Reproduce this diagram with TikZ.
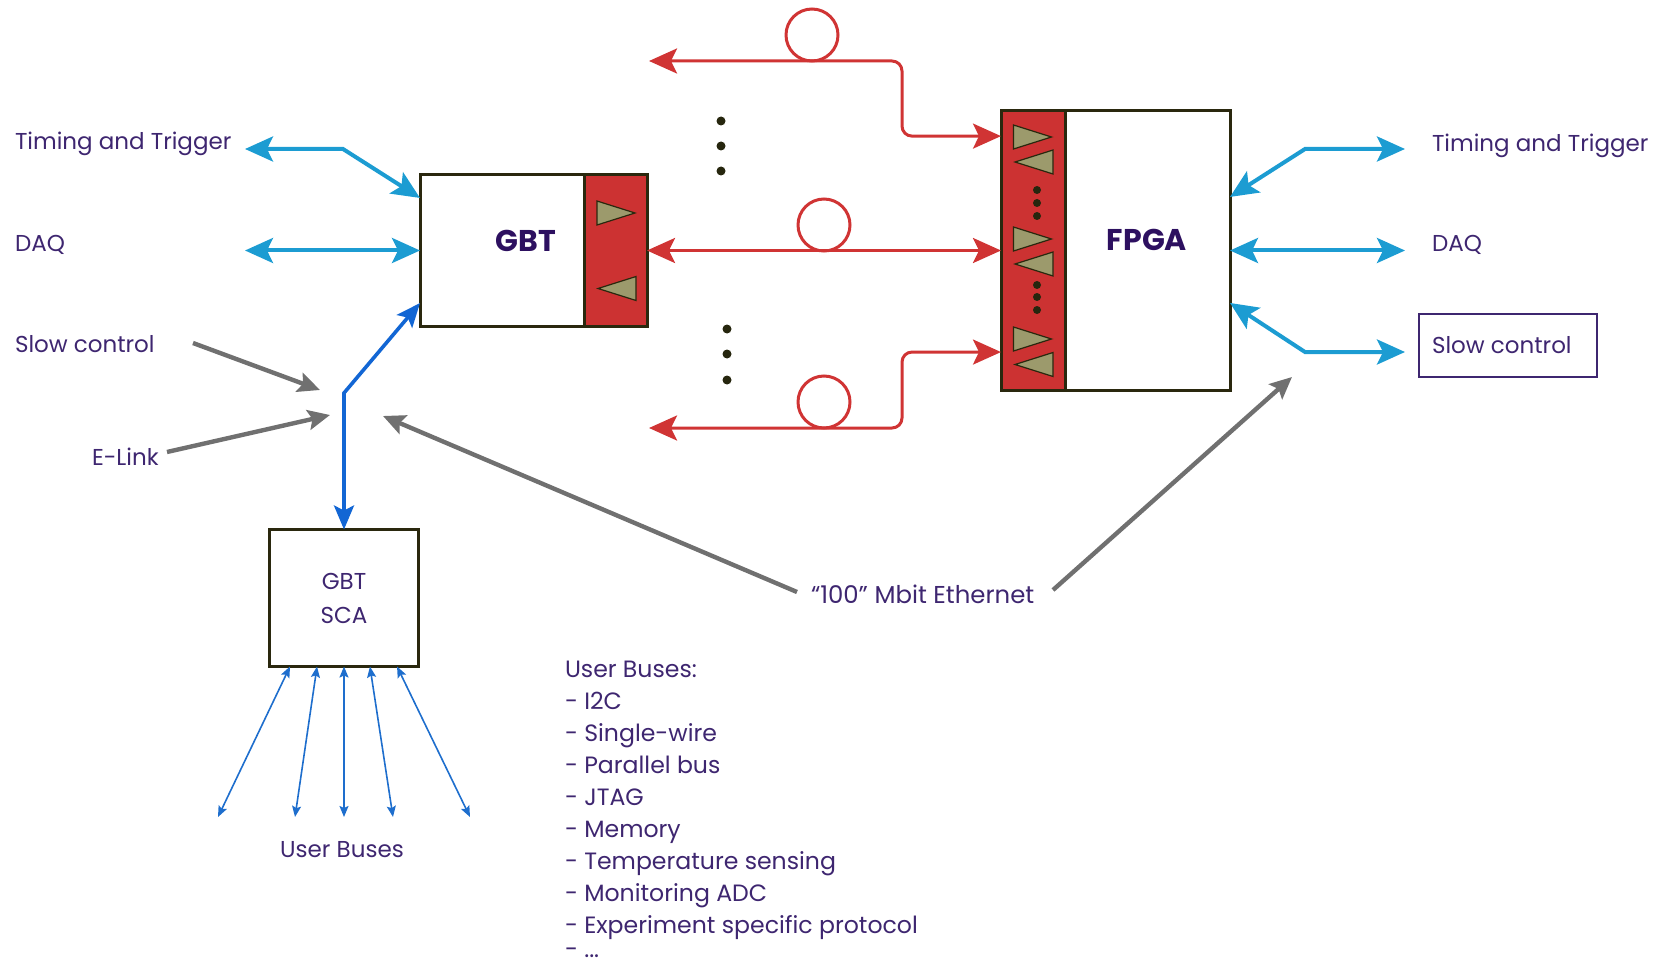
\documentclass[tikz,border=0pt]{standalone}
\usepackage{fontspec}
\setmainfont{Poppins}
\usetikzlibrary{arrows.meta,calc}
\definecolor{txtc}{RGB}{62,38,112}
\definecolor{boldc}{RGB}{45,16,96}
\definecolor{boxc}{RGB}{42,40,14}
\definecolor{redc}{RGB}{208,52,52}
\definecolor{fillred}{RGB}{204,50,50}
\definecolor{tric}{RGB}{156,154,108}
\definecolor{cyanc}{RGB}{28,156,210}
\definecolor{bluec}{RGB}{18,102,212}
\definecolor{busc}{RGB}{30,110,205}
\definecolor{grayc}{RGB}{112,112,112}
\definecolor{dotc}{RGB}{38,38,14}
\tikzset{
  cyTip/.tip={Stealth[length=14pt,width=12.5pt,inset=3pt]},
  rdTip/.tip={Stealth[length=14pt,width=12.5pt,inset=3pt]},
  blTip/.tip={Stealth[length=12pt,width=10pt,inset=2.5pt]},
  bsTip/.tip={Stealth[length=5.5pt,width=4.5pt,inset=1pt]},
  grTip/.tip={Stealth[length=11pt,width=10pt,inset=2pt]},
  trist/.style={draw=boxc,line width=0.6pt,fill=tric,line join=miter},
  trR/.pic={\path[trist] (-19,-12) -- (19,0) -- (-19,12) -- cycle;},
  trL/.pic={\path[trist] (19,-12) -- (-19,0) -- (19,12) -- cycle;}
}
\begin{document}
\begin{tikzpicture}[x=0.5pt,y=-0.5pt,
  every node/.style={inner sep=0pt,outer sep=0pt},
  box/.style={draw=boxc,line width=1.5pt,fill=white},
  redpart/.style={draw=boxc,line width=1.5pt,fill=fillred},
  lbl/.style={text=txtc,font=\fontsize{11.5}{15}\selectfont},
  lst/.style={text=txtc,font=\fontsize{11.8}{15}\selectfont},
  bigl/.style={text=boldc,font=\fontsize{15}{18}\selectfont\bfseries},
  cyarr/.style={draw=cyanc,line width=2pt,{cyTip}-{cyTip}},
  rdarr/.style={draw=redc,line width=1.5pt,{rdTip}-{rdTip}},
  blarr/.style={draw=bluec,line width=1.8pt,{blTip}-{blTip}},
  busarr/.style={draw=busc,line width=0.8pt,{bsTip}-{bsTip}},
  grarr/.style={draw=grayc,line width=2.2pt,-{grTip}},
  loop/.style={draw=redc,line width=1.5pt,circle,minimum size=26pt}
]
\useasboundingbox (0,0) rectangle (1659,968);

% ---------- boxes ----------
\node[box,minimum width=113.5pt,minimum height=75.5pt] (gbt) at (533.5,250.5) {};
\draw[redpart] ($(gbt.north west)!0.7225!(gbt.north east)$) rectangle (gbt.south east);
\node[bigl,anchor=base] (gbtL) at (526,251) {GBT};
\pic at (616,213) {trR};
\pic at (617,288.5) {trL};

\node[box,minimum width=114.5pt,minimum height=139.5pt] (fpga) at (1115.5,250.5) {};
\draw[redpart] (fpga.north west) rectangle ($(fpga.south west)!0.2795!(fpga.south east)$);
\node[bigl,anchor=base] (fpgaL) at (1147,250) {FPGA};
\pic at (1032.5,137) {trR};
\pic at (1034,162) {trL};
\pic at (1032.5,239) {trR};
\pic at (1034,264) {trL};
\pic at (1032.5,339) {trR};
\pic at (1034,364.5) {trL};
\foreach \y in {190,203,216,285,297,310} \fill[dotc] (1037,\y) circle[radius=4];

\node[box,minimum width=74.5pt,minimum height=68.5pt,align=center,text=txtc,
      font=\fontsize{11.5}{17}\selectfont] (sca) at (344,598) {GBT\\SCA};

% ---------- red optical links ----------
\coordinate (toptip) at (649,61);
\coordinate (bottip) at (649,428);
\coordinate (fT) at ($(fpga.north west)!0.09!(fpga.south west)$);
\coordinate (fB) at ($(fpga.north west)!0.864!(fpga.south west)$);
\draw[rdarr,rounded corners=5pt] (toptip) -- (902,61) -- (902,61 |- fT) -- (fT);
\draw[rdarr] (gbt.east) -- (fpga.west);
\draw[rdarr,rounded corners=5pt] (bottip) -- (902,428) -- (902,428 |- fB) -- (fB);
\node[loop] (loopA) at (812,35) {};
\node[loop] (loopB) at (824,225) {};
\node[loop] (loopC) at (824,402) {};
\foreach \y in {121,146,171} \fill[dotc] (721,\y) circle[radius=4.5];
\foreach \y in {329,354,380} \fill[dotc] (727,\y) circle[radius=4.5];

% ---------- cyan links ----------
\coordinate (ttLtip) at (245,149);
\coordinate (daqLtip) at (245,250.5);
\coordinate (ttRtip) at (1405,149);
\coordinate (daqRtip) at (1405,250.5);
\coordinate (scRtip) at (1405,352);
\draw[cyarr] (ttLtip) -- (343,149) -- ($(gbt.north west)!0.152!(gbt.south west)$);
\draw[cyarr] (daqLtip) -- (gbt.west);
\draw[cyarr] ($(fpga.north east)!0.308!(fpga.south east)$) -- (1305,149) -- (ttRtip);
\draw[cyarr] (fpga.east) -- (daqRtip);
\draw[cyarr] ($(fpga.north east)!0.688!(fpga.south east)$) -- (1305,352) -- (scRtip);

% ---------- E-link ----------
\coordinate (elbend) at (344,393);
\draw[blarr] ($(gbt.north west)!0.848!(gbt.south west)$) -- (elbend) -- (sca.north);

% ---------- user buses ----------
\foreach \f/\x [count=\i] in {0.1376/218,0.319/295,0.5/344,0.674/393,0.856/470} {
  \coordinate (ub\i) at (\x,817);
  \draw[busarr] ($(sca.south west)!\f!(sca.south east)$) -- (ub\i);
}

% ---------- labels ----------
\node[lbl,anchor=base west] (ttL) at (15,150) {Timing and Trigger};
\node[lbl,anchor=base west] (daqL) at (15,252) {DAQ};
\node[lbl,anchor=base west] (scL) at (15,352) {Slow control};
\node[lbl,anchor=base west] (elL) at (92,465) {E-Link};
\node[lbl,anchor=base west] (ttR) at (1432,152) {Timing and Trigger};
\node[lbl,anchor=base west] (daqR) at (1432,252) {DAQ};
\node[lbl,anchor=base west] (scR) at (1432,353) {Slow control};
\node[draw=txtc,line width=0.9pt,minimum width=89pt,minimum height=31.5pt] (scbox) at (1508,345.5) {};
\node[lbl,font=\fontsize{12.2}{15}\selectfont,anchor=base west] (eth) at (811,603) {“100” Mbit Ethernet};
\node[lbl,anchor=base] (ubL) at (342,857) {User Buses};
\foreach \t [count=\i from 0] in {{User Buses:},{- I2C},{- Single-wire},{- Parallel bus},{- JTAG},{- Memory},{- Temperature sensing},{- Monitoring ADC},{- Experiment specific protocol}}
  \node[lst,anchor=base west] (list\i) at (565,677+32*\i) {\t};
\node[lst,anchor=base west] (list9) at (565,957) {- ...};

% ---------- gray pointers ----------
\coordinate (scS) at (193,343);  \coordinate (scT) at (320,390);
\coordinate (elS) at (167,452);  \coordinate (elT) at (330,415);
\coordinate (ethLS) at (797,592); \coordinate (ethLT) at (383,416);
\coordinate (ethRS) at (1053,590); \coordinate (ethRT) at (1292,377);
\draw[grarr] (scS) -- (scT);
\draw[grarr] (elS) -- (elT);
\draw[grarr] (ethLS) -- (ethLT);
\draw[grarr] (ethRS) -- (ethRT);
\end{tikzpicture}
\end{document}
